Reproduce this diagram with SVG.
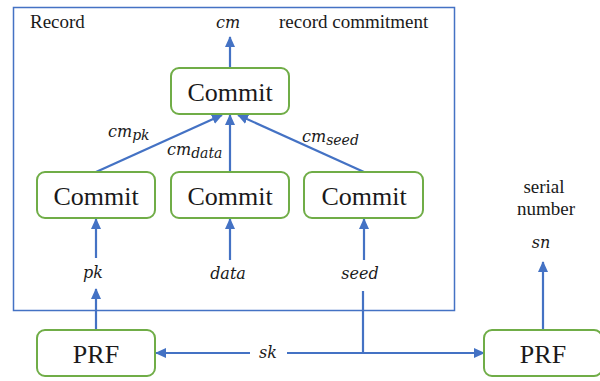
<svg xmlns="http://www.w3.org/2000/svg" width="600" height="381" viewBox="0 0 600 381">
<defs>
<marker id="ah" markerWidth="11" markerHeight="11" refX="10" refY="5.5" orient="auto" markerUnits="userSpaceOnUse" viewBox="0 0 11 11">
<path d="M0,0.5 L11,5.5 L0,10.5 Z" fill="#4472C4"/>
</marker>
<style>
.box{fill:#fff;stroke:#70AD47;stroke-width:2}
.ln{fill:none;stroke:#4472C4;stroke-width:2.2}
.ar{fill:none;stroke:#4472C4;stroke-width:2.2;marker-end:url(#ah)}
.t{font-family:"Liberation Serif","Times New Roman",serif;fill:#1a1a1a}
.big{font-size:26px;text-anchor:middle}
.sm{font-size:19px}
.m{font-family:"DejaVu Serif",serif;font-style:italic;font-size:16px;fill:#1a1a1a}
.c{text-anchor:middle}
.sub{font-size:14px}
</style>
</defs>
<rect x="0" y="0" width="600" height="381" fill="#fff"/>
<g id="record-box">
<rect x="13.5" y="7.5" width="441" height="303" fill="none" stroke="#4472C4" stroke-width="1.5"/>
<text class="t sm" x="30" y="28">Record</text>
<text class="t sm" x="279" y="28">record commitment</text>
</g>
<g id="connectors">
<line class="ar" x1="230" y1="68" x2="230" y2="37"/>
<line class="ar" x1="96" y1="172" x2="222" y2="115"/>
<line class="ar" x1="230" y1="172" x2="230" y2="115"/>
<line class="ar" x1="364" y1="172" x2="238" y2="115"/>
<line class="ar" x1="96" y1="258" x2="96" y2="219"/>
<line class="ar" x1="230" y1="260" x2="230" y2="219"/>
<line class="ar" x1="364" y1="260" x2="364" y2="219"/>
<line class="ar" x1="96" y1="330" x2="96" y2="289"/>
<line class="ln" x1="363" y1="291" x2="363" y2="353"/>
<line class="ar" x1="250" y1="353" x2="156" y2="353"/>
<line class="ar" x1="287" y1="353" x2="484" y2="353"/>
<line class="ar" x1="543" y1="330" x2="543" y2="262"/>
</g>
<g id="commit-top">
<rect class="box" x="171" y="68" width="118" height="46" rx="8"/>
<text class="t big" x="230" y="100.5">Commit</text>
</g>
<g id="commit-pk">
<rect class="box" x="37" y="172" width="118" height="46" rx="8"/>
<text class="t big" x="96" y="204.5">Commit</text>
</g>
<g id="commit-data">
<rect class="box" x="171" y="172" width="118" height="46" rx="8"/>
<text class="t big" x="230" y="204.5">Commit</text>
</g>
<g id="commit-seed">
<rect class="box" x="304" y="172" width="119" height="46" rx="8"/>
<text class="t big" x="364" y="204.5">Commit</text>
</g>
<g id="prf-left">
<rect class="box" x="37" y="330" width="118" height="46" rx="8"/>
<text class="t big" x="96" y="362.5">PRF</text>
</g>
<g id="prf-right">
<rect class="box" x="484" y="330" width="118" height="46" rx="8"/>
<text class="t big" x="543" y="362.5">PRF</text>
</g>
<g id="labels">
<text class="m c" x="228" y="28">cm</text>
<text class="m" x="108" y="137">cm<tspan class="sub" dy="3">pk</tspan></text>
<text class="m" x="167" y="155">cm<tspan class="sub" dy="3">data</tspan></text>
<text class="m" x="302" y="142">cm<tspan class="sub" dy="3">seed</tspan></text>
<text class="m c" x="93" y="278">pk</text>
<text class="m c" x="228" y="279">data</text>
<text class="m c" x="360" y="279">seed</text>
<text class="m c" x="268" y="358">sk</text>
<text class="m c" x="541" y="248">sn</text>
<text class="t sm c" x="544" y="193">serial</text>
<text class="t sm c" x="546" y="215">number</text>
</g>
</svg>
